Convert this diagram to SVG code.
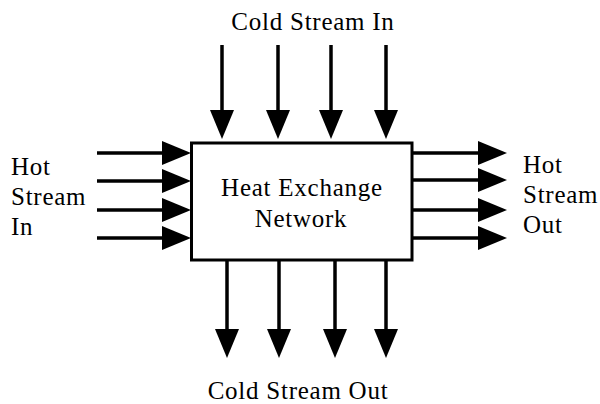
<svg xmlns="http://www.w3.org/2000/svg" width="600" height="404" viewBox="0 0 600 404">
<defs>
<marker id="ah" markerUnits="userSpaceOnUse" markerWidth="30" markerHeight="26" refX="2" refY="12" orient="auto" overflow="visible">
<path d="M0,0 L29,12 L0,24 Z" fill="#000"/>
</marker>
<style>
.c line{stroke:#000;stroke-width:3.5;marker-end:url(#ah)}
</style>
</defs>
<rect width="600" height="404" fill="#fff"/>
<g font-family="Liberation Serif, Times New Roman, serif" font-size="25" fill="#000" letter-spacing="0.75">
<g id="network">
<rect x="191.5" y="143" width="220.5" height="117" fill="#fff" stroke="#000" stroke-width="3"/>
<text x="302" y="196" text-anchor="middle">Heat Exchange</text>
<text x="301" y="227" text-anchor="middle">Network</text>
</g>
<g id="cold-in-label"><text x="313" y="30" text-anchor="middle">Cold Stream In</text></g>
<g id="cold-out-label"><text x="298" y="399" text-anchor="middle">Cold Stream Out</text></g>
<g id="hot-in-label">
<text x="11" y="175">Hot</text>
<text x="11" y="205">Stream</text>
<text x="11" y="235">In</text>
</g>
<g id="hot-out-label">
<text x="523" y="173">Hot</text>
<text x="523" y="203">Stream</text>
<text x="523" y="233">Out</text>
</g>
</g>
<g id="connectors" class="c">
<line x1="222" y1="45" x2="222" y2="112"/>
<line x1="278" y1="45" x2="278" y2="112"/>
<line x1="331" y1="45" x2="331" y2="112"/>
<line x1="386" y1="45" x2="386" y2="112"/>
<line x1="227" y1="261" x2="227" y2="331"/>
<line x1="279" y1="261" x2="279" y2="331"/>
<line x1="335" y1="261" x2="335" y2="331"/>
<line x1="386" y1="261" x2="386" y2="331"/>
<line x1="97" y1="153" x2="164" y2="153"/>
<line x1="97" y1="181" x2="164" y2="181"/>
<line x1="97" y1="210" x2="164" y2="210"/>
<line x1="97" y1="238" x2="164" y2="238"/>
<line x1="413" y1="153" x2="480" y2="153"/>
<line x1="413" y1="180" x2="480" y2="180"/>
<line x1="413" y1="210" x2="480" y2="210"/>
<line x1="413" y1="238" x2="480" y2="238"/>
</g>
</svg>
